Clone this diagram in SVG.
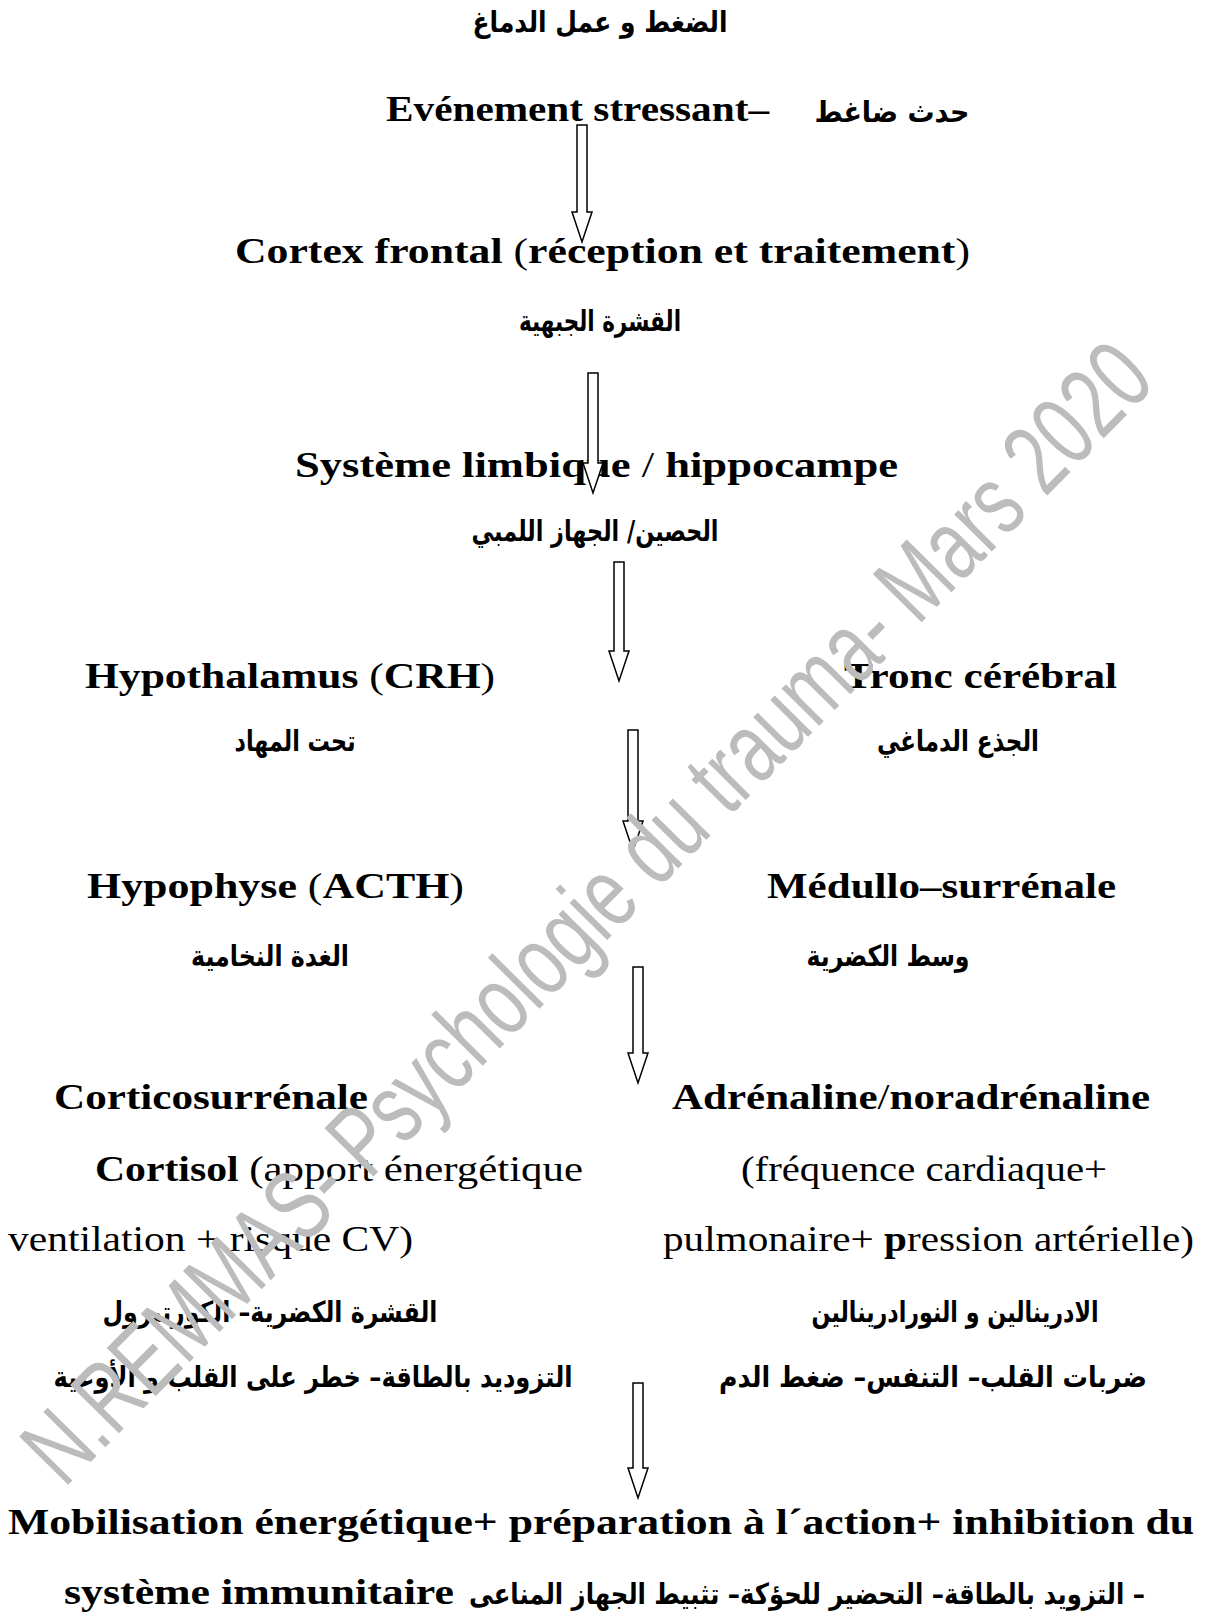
<svg xmlns="http://www.w3.org/2000/svg" width="1205" height="1618" viewBox="0 0 1205 1618">
<style>
.b{font-family:"Liberation Serif",serif;font-weight:bold;font-size:35px;fill:#000}
.r{font-family:"Liberation Serif",serif;font-weight:normal;font-size:36px;fill:#000}
.n{font-weight:normal}
.ar{font-family:"DejaVu Sans",sans-serif;font-weight:bold;font-size:29px;fill:#000;direction:rtl;text-anchor:middle}
.arrow{fill:#fff;stroke:#000;stroke-width:1.5;stroke-linejoin:miter}
.wm{font-family:"Liberation Sans",sans-serif;font-size:100px;fill:#bcbcbc}
</style>
<rect width="1205" height="1618" fill="#fff"/>
<g id="title"><text class="ar" x="600" y="32" textLength="255" lengthAdjust="spacingAndGlyphs">الضغط و عمل الدماغ</text></g>
<g id="evenement">
<text class="b" x="386" y="121" textLength="383" lengthAdjust="spacingAndGlyphs">Evénement stressant–</text>
<text class="ar" x="892" y="122" textLength="155" lengthAdjust="spacingAndGlyphs">حدث  ضاغط</text>
</g>
<g id="cortex">
<text class="b" x="235" y="263" textLength="735" lengthAdjust="spacingAndGlyphs">Cortex frontal <tspan class="n">(</tspan>réception et traitement<tspan class="n">)</tspan></text>
<text class="ar" x="600" y="331" textLength="162" lengthAdjust="spacingAndGlyphs">القشرة الجبهية</text>
</g>
<g id="limbique">
<text class="b" x="295" y="477" textLength="603" lengthAdjust="spacingAndGlyphs">Système limbique <tspan class="n">/</tspan> hippocampe</text>
<text class="ar" x="595" y="541" textLength="247" lengthAdjust="spacingAndGlyphs">الحصين/ الجهاز اللمبي</text>
</g>
<g id="hypothalamus">
<text class="b" x="85" y="688" textLength="410" lengthAdjust="spacingAndGlyphs">Hypothalamus <tspan class="n">(</tspan>CRH<tspan class="n">)</tspan></text>
<text class="ar" x="295" y="751" textLength="121" lengthAdjust="spacingAndGlyphs">تحت المهاد</text>
</g>
<g id="tronc">
<text class="b" x="844" y="688" textLength="273" lengthAdjust="spacingAndGlyphs">Tronc cérébral</text>
<text class="ar" x="958" y="751" textLength="162" lengthAdjust="spacingAndGlyphs">الجذع الدماغي</text>
</g>
<g id="hypophyse">
<text class="b" x="87" y="898" textLength="377" lengthAdjust="spacingAndGlyphs">Hypophyse <tspan class="n">(</tspan>ACTH<tspan class="n">)</tspan></text>
<text class="ar" x="270" y="966" textLength="158" lengthAdjust="spacingAndGlyphs">الغدة النخامية</text>
</g>
<g id="medullo">
<text class="b" x="767" y="898" textLength="349" lengthAdjust="spacingAndGlyphs">Médullo–surrénale</text>
<text class="ar" x="888" y="966" textLength="163" lengthAdjust="spacingAndGlyphs">وسط الكضرية</text>
</g>
<g id="cortico">
<text class="b" x="54" y="1109" textLength="314" lengthAdjust="spacingAndGlyphs">Corticosurrénale</text>
<text class="r" x="95" y="1181" textLength="488" lengthAdjust="spacingAndGlyphs"><tspan font-weight="bold" font-size="35">Cortisol</tspan> (apport énergétique</text>
<text class="r" x="8" y="1251" textLength="405" lengthAdjust="spacingAndGlyphs">ventilation + risque CV)</text>
<text class="ar" x="270" y="1322" textLength="335" lengthAdjust="spacingAndGlyphs">القشرة الكضرية– الكورتيزول</text>
<text class="ar" x="313" y="1387" textLength="519" lengthAdjust="spacingAndGlyphs">التزوديد بالطاقة– خطر على القلب و الأوعية</text>
</g>
<g id="adrenaline">
<text class="b" x="672" y="1109" textLength="478" lengthAdjust="spacingAndGlyphs">Adrénaline<tspan class="n">/</tspan>noradrénaline</text>
<text class="r" x="741" y="1181" textLength="366" lengthAdjust="spacingAndGlyphs">(fréquence cardiaque+</text>
<text class="r" x="663" y="1251" textLength="531" lengthAdjust="spacingAndGlyphs">pulmonaire+ <tspan font-weight="bold">p</tspan>ression artérielle)</text>
<text class="ar" x="955" y="1322" textLength="287" lengthAdjust="spacingAndGlyphs">الادرينالين و النورادرينالين</text>
<text class="ar" x="933" y="1387" textLength="428" lengthAdjust="spacingAndGlyphs">ضربات القلب– التنفس– ضغط الدم</text>
</g>
<g id="mobilisation">
<text class="b" x="8" y="1534" textLength="1186" lengthAdjust="spacingAndGlyphs">Mobilisation énergétique+ préparation à l´action+ inhibition du</text>
<text class="b" x="64" y="1604" textLength="390" lengthAdjust="spacingAndGlyphs">système immunitaire</text>
<text class="ar" x="807" y="1604" textLength="676" lengthAdjust="spacingAndGlyphs">– التزويد بالطاقة– التحضير للحؤكة– تثبيط الجهاز المناعى</text>
</g>
<g id="connectors">
<path class="arrow" d="M577,125 V212 H572 L582,242 L592,212 H587 V125 Z"/>
<path class="arrow" d="M588,373 V463 H583 L593,493 L603,463 H598 V373 Z"/>
<path class="arrow" d="M614,562 V651 H609 L619,681 L629,651 H624 V562 Z"/>
<path class="arrow" d="M628,730 V821 H623 L633,851 L643,821 H638 V730 Z"/>
<path class="arrow" d="M633,967 V1053 H628 L638,1083 L648,1053 H643 V967 Z"/>
<path class="arrow" d="M633,1383 V1468 H628 L638,1498 L648,1468 H643 V1383 Z"/>
</g>
<g id="watermark">
<text class="wm" transform="translate(64,1489) rotate(-45.3)" textLength="1555" lengthAdjust="spacingAndGlyphs">N.REMMAS- Psychologie du trauma- Mars 2020</text>
</g>
</svg>
